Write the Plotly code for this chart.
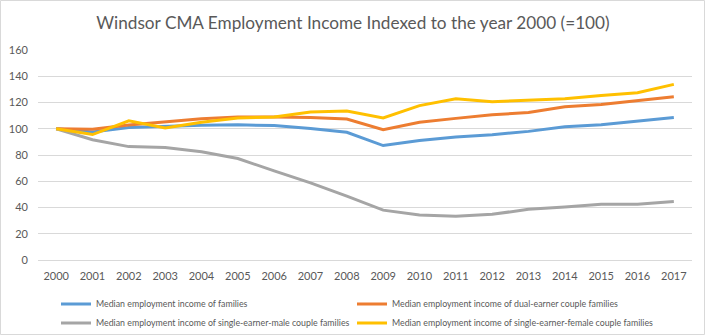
import plotly.graph_objects as go

years = [str(y) for y in range(2000, 2018)]

families = [100, 97.5, 101, 102, 102.6, 103, 102.4, 100.2, 97.3, 87.2, 91, 93.8, 95.5, 98, 101.5, 103, 106, 108.5]
dual_earner = [100, 99.6, 102.8, 105.3, 107.6, 108.9, 109, 108.5, 107.4, 99.3, 105, 107.9, 110.6, 112.4, 116.7, 118.5, 121.5, 124.4]
single_male = [100, 91.6, 86.4, 85.7, 82.4, 77.3, 67.9, 58.8, 48.6, 38, 34.3, 33.3, 34.8, 38.6, 40.4, 42.5, 42.5, 44.6]
single_female = [100, 95.6, 106, 100.6, 105, 108.2, 109, 112.8, 113.5, 108.2, 117.6, 122.9, 120.6, 122, 122.9, 125.4, 127.5, 133.8]

# (name, values, colour, legend column)
series = [
    ("Median employment income of families", families, "#5B9BD5", "legend"),
    ("Median employment income of dual-earner couple families", dual_earner, "#ED7D31", "legend2"),
    ("Median employment income of single-earner-male couple families", single_male, "#A5A5A5", "legend"),
    ("Median employment income of single-earner-female couple families", single_female, "#FFC000", "legend2"),
]

FONT = "Lato, 'Open Sans', sans-serif"
TEXT = "#595959"
GRID = "#D9D9D9"

fig = go.Figure()
for name, vals, color, leg in series:
    fig.add_trace(go.Scatter(
        x=years, y=vals, name=name, mode="lines",
        line=dict(color=color, width=3), legend=leg,
    ))

# plot area in pixels: x 38..692, y 50..260
L, R, T, B = 38, 14, 50, 76
W, H = 706, 336
pw, ph = W - L - R, H - T - B


def legend_box(px_left):
    return dict(
        orientation="v", x=(px_left - L) / pw, xanchor="left",
        y=(260 - 289.5) / ph, yanchor="top",
        font=dict(family=FONT, size=8.8, color=TEXT),
        tracegroupgap=0, itemwidth=30, bgcolor="rgba(0,0,0,0)",
        traceorder="normal",
    )


fig.update_layout(
    width=W, height=H,
    margin=dict(l=L, r=R, t=T, b=B, autoexpand=False),
    paper_bgcolor="white", plot_bgcolor="white",
    font=dict(family=FONT, size=11, color=TEXT),
    title=dict(
        text="Windsor CMA Employment Income Indexed to the year 2000 (=100)",
        x=0.5, xanchor="center", y=1 - 23 / H, yanchor="middle",
        font=dict(family=FONT, size=17.2, color=TEXT),
    ),
    showlegend=True,
    legend=legend_box(56),
    legend2=legend_box(352),
    xaxis=dict(
        type="category", range=[-0.5, 17.5],
        showgrid=False, showline=True, linecolor=GRID, linewidth=1,
        ticks="", tickfont=dict(size=11, color=TEXT), ticklabelstandoff=6,
    ),
    yaxis=dict(
        range=[0, 160], dtick=20, showgrid=True, gridcolor=GRID, gridwidth=1,
        zeroline=False, showline=False, ticks="",
        tickfont=dict(size=11, color=TEXT), ticklabelstandoff=9,
    ),
)

# light outer border around the whole chart
fig.add_shape(
    type="rect", xref="paper", yref="paper",
    x0=(0.5 - L) / pw, x1=(W - 1.5 - L) / pw,
    y0=(260 - (H - 1.5)) / ph, y1=(260 - 0.5) / ph,
    line=dict(color=GRID, width=1), layer="below",
)

fig.write_html("out.html")
